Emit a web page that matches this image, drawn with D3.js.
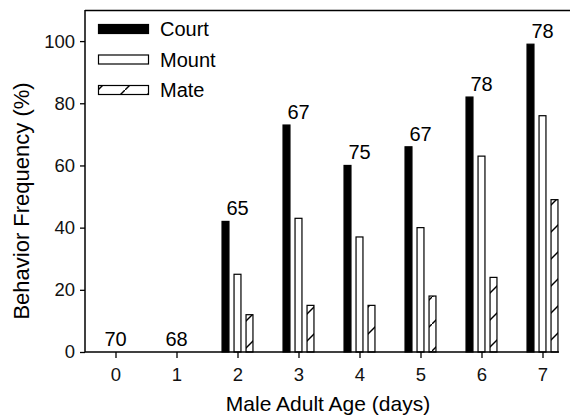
<!DOCTYPE html>
<html>
<head>
<meta charset="utf-8">
<script src="https://cdn.jsdelivr.net/npm/d3@7"></script>
<style>
  body { margin: 0; background: #fff; }
  svg { display: block; font-family: "Liberation Sans", Arial, Helvetica, sans-serif; }
</style>
</head>
<body>
<div id="chart"></div>
<script>
// chart data
const days = [0, 1, 2, 3, 4, 5, 6, 7];
const series = ['Court', 'Mount', 'Mate'];
const court = [0, 0, 42, 73, 60, 66, 82, 99];
const mount = [0, 0, 25, 43, 37, 40, 63, 76];
const mate = [0, 0, 12, 15, 15, 18, 24, 49];
const nLabels = [70, 68, 65, 67, 75, 67, 78, 78];
const yTicks = [0, 20, 40, 60, 80, 100];

const width = 570, height = 418;
const margin = { top: 10, right: 0, bottom: 66, left: 85 };

const x = d3.scaleLinear([-0.5, 7.5], [margin.left, 573]);
const y = d3.scaleLinear([0, 110], [height - margin.bottom, margin.top]);
// bars within a day: step 12px, bar ~8px
const sub = d3.scaleBand().domain(series).range([-18, 18])
  .paddingInner(0.34).paddingOuter(0.17);

const svg = d3.select('#chart').append('svg')
  .attr('width', width).attr('height', height);

// hatch for Mate
svg.append('defs').append('pattern')
  .attr('id', 'hatch')
  .attr('patternUnits', 'userSpaceOnUse')
  .attr('width', 27).attr('height', 27)
  .call(p => {
    p.append('rect').attr('width', 27).attr('height', 27).attr('fill', '#fff');
    p.append('path').attr('d', 'M-2,29 L29,-2').attr('stroke', '#000').attr('stroke-width', 1.4);
  });

const fills = { Court: '#000', Mount: '#fff', Mate: 'url(#hatch)' };
const values = { Court: court, Mount: mount, Mate: mate };

// frame top line
svg.append('line')
  .attr('x1', margin.left).attr('x2', width)
  .attr('y1', margin.top + 0.5).attr('y2', margin.top + 0.5)
  .attr('stroke', '#000').attr('stroke-width', 1.5);

const bars = days.flatMap((d, i) => series.map(s => ({ day: d, s, v: values[s][i] })))
  .filter(d => d.v > 0);

svg.append('g').selectAll('rect')
  .data(bars)
  .join('rect')
  .attr('x', d => x(d.day) + sub(d.s) + 0.5)
  .attr('y', d => y(d.v))
  .attr('width', sub.bandwidth() - 1)
  .attr('height', d => y(0) - y(d.v))
  .attr('fill', d => fills[d.s])
  .attr('stroke', '#000')
  .attr('stroke-width', 1.2);

// n labels above court bars
svg.append('g').selectAll('text')
  .data(days)
  .join('text')
  .attr('x', d => x(d))
  .attr('y', (d, i) => y(court[i]) - 6)
  .attr('text-anchor', 'middle')
  .attr('font-size', 20)
  .text((d, i) => nLabels[i]);

const xAxis = svg.append('g')
  .attr('transform', `translate(0,${y(0)})`)
  .call(d3.axisBottom(x).tickValues(days).tickSize(6).tickPadding(10).tickSizeOuter(0));
xAxis.select('.domain').remove();
xAxis.append('line')
  .attr('x1', margin.left).attr('x2', 559)
  .attr('stroke', '#000').attr('stroke-width', 1.5);

const yAxis = svg.append('g')
  .attr('transform', `translate(${margin.left},0)`)
  .call(d3.axisLeft(y).tickValues(yTicks).tickSize(5).tickPadding(5).tickSizeOuter(0));
yAxis.select('.domain')
  .attr('d', `M0,${y(0)}V${margin.top}`)
  .attr('stroke-width', 1.5);

svg.selectAll('.tick line').attr('stroke-width', 1.3);
svg.selectAll('.tick text')
  .attr('font-size', 18.5)
  .attr('font-family', null)
  .attr('fill', '#111');

// axis titles
svg.append('text')
  .attr('x', 328).attr('y', 411)
  .attr('text-anchor', 'middle')
  .attr('font-size', 21)
  .text('Male Adult Age (days)');

svg.append('text')
  .attr('transform', 'translate(29,201) rotate(-90)')
  .attr('text-anchor', 'middle')
  .attr('font-size', 22)
  .text('Behavior Frequency (%)');

// legend
const legend = svg.append('g').selectAll('g')
  .data(series)
  .join('g')
  .attr('transform', (d, i) => `translate(98,${29 + i * 30.5})`);

legend.append('rect')
  .attr('x', 0.5).attr('y', -4.5)
  .attr('width', 50).attr('height', 9)
  .attr('fill', d => fills[d])
  .attr('stroke', '#000')
  .attr('stroke-width', 1.2);

legend.append('text')
  .attr('x', 62).attr('y', 7)
  .attr('font-size', 20)
  .text(d => d);
</script>
</body>
</html>
